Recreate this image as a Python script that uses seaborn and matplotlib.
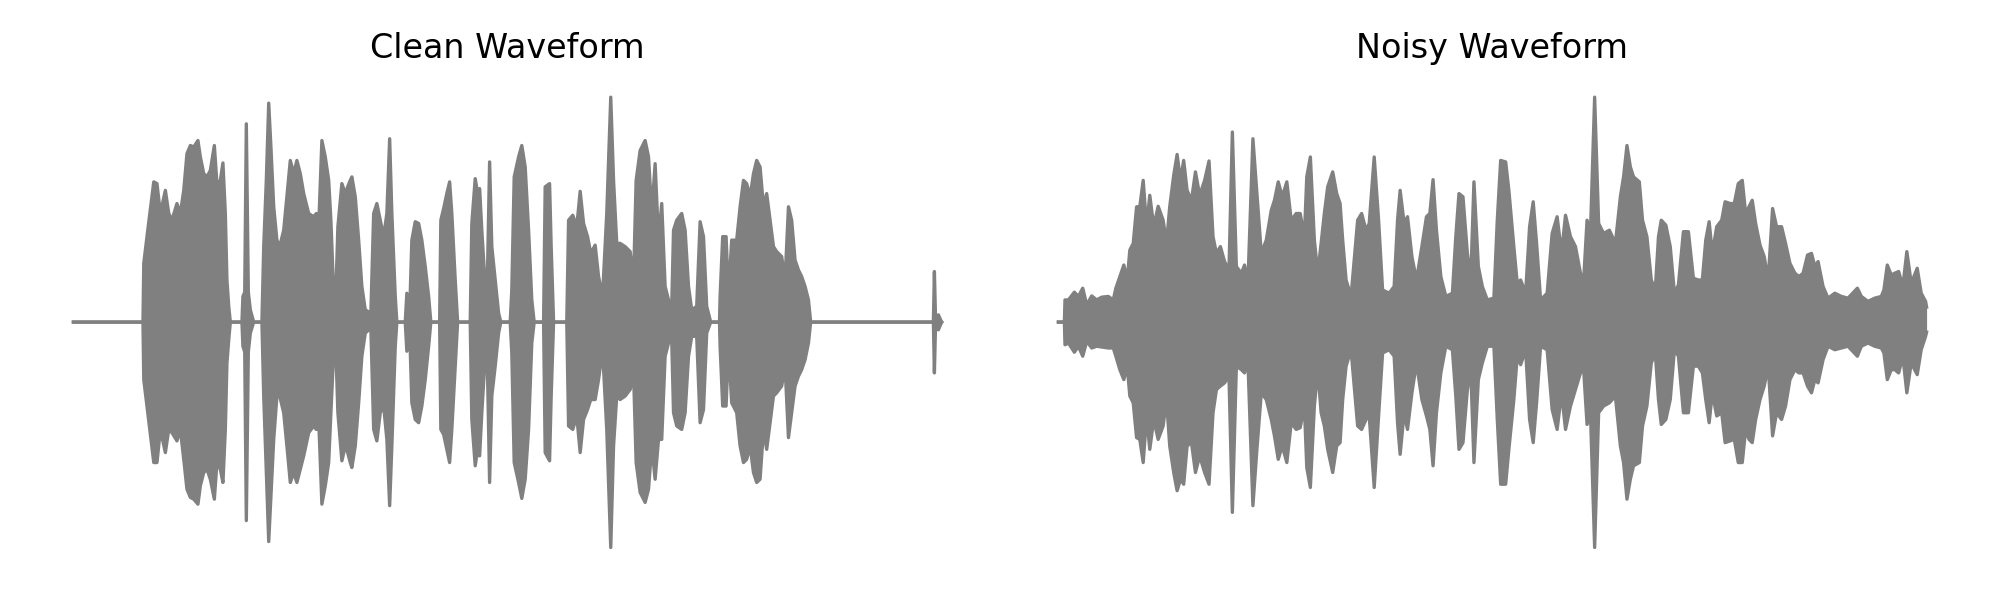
import matplotlib
matplotlib.use("Agg")
import matplotlib.pyplot as plt
import seaborn as sns

# time (s) and envelope (upper / lower amplitude)
clean_t = [0.0, 0.348, 0.352, 0.372, 0.402, 0.418, 0.435, 0.46, 0.477, 0.493,
           0.518, 0.535, 0.552, 0.568, 0.585, 0.602, 0.623, 0.635, 0.652, 0.668,
           0.685, 0.705, 0.718, 0.735, 0.748, 0.76, 0.768, 0.777, 0.785, 0.843,
           0.848, 0.857, 0.865, 0.875, 0.885, 0.902, 0.943, 0.952, 0.965, 0.977,
           0.988, 1.002, 1.018, 1.032, 1.052, 1.068, 1.085, 1.102, 1.118, 1.135,
           1.152, 1.177, 1.202, 1.215, 1.227, 1.243, 1.26, 1.277, 1.288, 1.302,
           1.313, 1.323, 1.343, 1.36, 1.372, 1.385, 1.393, 1.41, 1.427, 1.443,
           1.46, 1.488, 1.502, 1.518, 1.535, 1.552, 1.568, 1.582, 1.593, 1.61,
           1.618, 1.66, 1.668, 1.682, 1.693, 1.71, 1.727, 1.743, 1.76, 1.777,
           1.788, 1.832, 1.838, 1.852, 1.868, 1.882, 1.893, 1.91, 1.922, 1.985,
           1.993, 2.01, 2.022, 2.032, 2.043, 2.06, 2.07, 2.082, 2.093, 2.11,
           2.127, 2.138, 2.185, 2.193, 2.205, 2.227, 2.243, 2.26, 2.277, 2.293,
           2.305, 2.352, 2.36, 2.382, 2.39, 2.402, 2.468, 2.477, 2.498, 2.518,
           2.535, 2.552, 2.572, 2.588, 2.61, 2.627, 2.647, 2.668, 2.688, 2.702,
           2.718, 2.735, 2.76, 2.785, 2.802, 2.815, 2.835, 2.86, 2.877, 2.893,
           2.91, 2.927, 2.943, 2.96, 2.977, 2.993, 3.002, 3.018, 3.043, 3.06,
           3.077, 3.093, 3.118, 3.135, 3.152, 3.168, 3.188, 3.232, 3.235, 3.248,
           3.265, 3.277, 3.293, 3.318, 3.335, 3.352, 3.368, 3.385, 3.402, 3.418,
           3.435, 3.452, 3.468, 3.485, 3.502, 3.518, 3.543, 3.56, 3.577, 3.593,
           3.61, 3.627, 3.643, 3.66, 3.677, 3.688, 4.302, 4.307, 4.313, 4.327, 4.343]
clean_upper = [0, 0, 0.236, 0.369, 0.563, 0.556, 0.436, 0.529, 0.436, 0.409,
               0.476, 0.436, 0.529, 0.676, 0.709, 0.703, 0.729, 0.663, 0.596, 0.583,
               0.609, 0.709, 0.556, 0.569, 0.639, 0.436, 0.169, 0.063, 0, 0,
               0.103, 0.12, 0.796, 0.12, 0.049, 0, 0, 0.303, 0.569, 0.879,
               0.703, 0.463, 0.329, 0.303, 0.369, 0.503, 0.649, 0.596, 0.649, 0.596,
               0.516, 0.436, 0.423, 0.436, 0.383, 0.729, 0.663, 0.569, 0.409, 0.116,
               0.116, 0.383, 0.556, 0.516, 0.543, 0.569, 0.583, 0.503, 0.329, 0.143,
               0.049, 0.036, 0.436, 0.476, 0.409, 0.343, 0.436, 0.736, 0.436, 0.103,
               0, 0, 0.116, 0.036, 0.329, 0.403, 0.396, 0.329, 0.223, 0.103,
               0, 0, 0.409, 0.456, 0.516, 0.563, 0.436, 0.169, 0, 0,
               0.396, 0.576, 0.516, 0.536, 0.369, 0.143, 0.143, 0.643, 0.303, 0.169,
               0.036, 0, 0, 0.129, 0.583, 0.663, 0.709, 0.623, 0.369, 0.089,
               0, 0, 0.543, 0.556, 0.303, 0, 0, 0.409, 0.429, 0.383,
               0.525, 0.396, 0.343, 0.276, 0.309, 0.183, 0.103, 0.436, 0.903, 0.569,
               0.316, 0.316, 0.303, 0.283, 0.169, 0.569, 0.689, 0.729, 0.663, 0.436,
               0.636, 0.329, 0.476, 0.143, 0.089, 0.063, 0.369, 0.409, 0.436, 0.369,
               0.143, 0.049, 0.063, 0.403, 0.343, 0.063, 0, 0, 0.103, 0.343,
               0.343, 0.103, 0.329, 0.329, 0.463, 0.569, 0.556, 0.503, 0.596, 0.649,
               0.623, 0.463, 0.516, 0.409, 0.303, 0.283, 0.263, 0.169, 0.463, 0.409,
               0.249, 0.209, 0.183, 0.143, 0.089, 0, 0, 0.203, 0, 0.029, 0]
clean_lower = [0, 0, -0.231, -0.364, -0.564, -0.564, -0.431, -0.524, -0.431, -0.444,
               -0.477, -0.431, -0.551, -0.671, -0.704, -0.711, -0.731, -0.657, -0.604, -0.591,
               -0.631, -0.711, -0.564, -0.591, -0.644, -0.431, -0.164, -0.071, 0, 0,
               -0.097, -0.12, -0.797, -0.12, -0.044, 0, 0, -0.297, -0.604, -0.881,
               -0.697, -0.471, -0.297, -0.297, -0.364, -0.497, -0.644, -0.604, -0.644, -0.591,
               -0.537, -0.444, -0.417, -0.431, -0.391, -0.731, -0.657, -0.564, -0.364, -0.124,
               -0.111, -0.364, -0.557, -0.497, -0.524, -0.564, -0.584, -0.497, -0.324, -0.137,
               -0.044, -0.024, -0.431, -0.477, -0.364, -0.337, -0.471, -0.737, -0.497, -0.097,
               0, 0, -0.117, -0.031, -0.324, -0.391, -0.404, -0.337, -0.231, -0.097,
               0, 0, -0.431, -0.451, -0.511, -0.564, -0.431, -0.177, 0, 0,
               -0.391, -0.577, -0.511, -0.537, -0.364, -0.137, -0.137, -0.644, -0.297, -0.177,
               -0.044, 0, 0, -0.124, -0.564, -0.644, -0.708, -0.631, -0.431, -0.084,
               0, 0, -0.524, -0.557, -0.297, 0, 0, -0.417, -0.431, -0.377,
               -0.524, -0.391, -0.351, -0.311, -0.311, -0.231, -0.111, -0.431, -0.905, -0.497,
               -0.297, -0.311, -0.297, -0.271, -0.204, -0.564, -0.684, -0.724, -0.671, -0.497,
               -0.631, -0.471, -0.471, -0.137, -0.084, -0.071, -0.364, -0.417, -0.431, -0.364,
               -0.137, -0.057, -0.057, -0.404, -0.351, -0.044, 0, 0, -0.097, -0.337,
               -0.337, -0.097, -0.324, -0.364, -0.497, -0.564, -0.551, -0.497, -0.604, -0.644,
               -0.631, -0.431, -0.511, -0.404, -0.297, -0.284, -0.257, -0.177, -0.464, -0.364,
               -0.257, -0.217, -0.191, -0.151, -0.084, 0, 0, -0.204, 0, -0.031, 0]

# same for the noisy waveform
noisy_t = [0.0, 0.03, 0.033, 0.05, 0.08, 0.1, 0.122, 0.142, 0.167, 0.192,
           0.217, 0.25, 0.275, 0.288, 0.308, 0.328, 0.345, 0.358, 0.375, 0.392,
           0.408, 0.425, 0.442, 0.458, 0.478, 0.5, 0.525, 0.542, 0.558, 0.578,
           0.595, 0.612, 0.628, 0.645, 0.667, 0.687, 0.708, 0.733, 0.755, 0.775,
           0.792, 0.812, 0.833, 0.855, 0.872, 0.892, 0.917, 0.933, 0.95, 0.975,
           0.995, 1.017, 1.042, 1.067, 1.083, 1.102, 1.122, 1.145, 1.167, 1.192,
           1.212, 1.233, 1.245, 1.263, 1.283, 1.3, 1.317, 1.333, 1.35, 1.375,
           1.395, 1.412, 1.425, 1.442, 1.467, 1.5, 1.52, 1.542, 1.558, 1.583,
           1.605, 1.625, 1.658, 1.683, 1.7, 1.713, 1.733, 1.75, 1.772, 1.795,
           1.822, 1.845, 1.862, 1.878, 1.895, 1.917, 1.942, 1.975, 1.992, 2.008,
           2.028, 2.05, 2.067, 2.083, 2.105, 2.125, 2.15, 2.183, 2.2, 2.217,
           2.242, 2.258, 2.283, 2.3, 2.317, 2.342, 2.362, 2.38, 2.397, 2.417,
           2.45, 2.475, 2.5, 2.522, 2.542, 2.567, 2.592, 2.617, 2.633, 2.65,
           2.667, 2.688, 2.708, 2.733, 2.762, 2.792, 2.817, 2.833, 2.85, 2.867,
           2.883, 2.912, 2.928, 2.95, 2.972, 2.992, 3.008, 3.022, 3.045, 3.067,
           3.088, 3.108, 3.133, 3.158, 3.183, 3.208, 3.228, 3.245, 3.262, 3.278,
           3.3, 3.325, 3.342, 3.367, 3.388, 3.408, 3.428, 3.445, 3.462, 3.478,
           3.495, 3.517, 3.538, 3.558, 3.58, 3.6, 3.625, 3.645, 3.667, 3.692,
           3.712, 3.733, 3.755, 3.775, 3.792, 3.808, 3.833, 3.858, 3.892, 3.925,
           3.958, 4.005, 4.025, 4.058, 4.092, 4.125, 4.138, 4.155, 4.175, 4.192,
           4.212, 4.233, 4.253, 4.275, 4.305, 4.325, 4.347, 4.352]
noisy_upper = [0, 0, 0.089, 0.089, 0.12, 0.103, 0.136, 0.069, 0.105, 0.089,
               0.1, 0.103, 0.089, 0.136, 0.183, 0.229, 0.169, 0.289, 0.316, 0.463,
               0.463, 0.569, 0.383, 0.509, 0.383, 0.465, 0.409, 0.316, 0.463, 0.589,
               0.673, 0.569, 0.649, 0.529, 0.489, 0.603, 0.509, 0.569, 0.647, 0.343,
               0.276, 0.303, 0.243, 0.209, 0.763, 0.223, 0.196, 0.229, 0.156, 0.736,
               0.516, 0.276, 0.329, 0.449, 0.489, 0.563, 0.503, 0.563, 0.409, 0.436,
               0.436, 0.343, 0.583, 0.663, 0.329, 0.196, 0.316, 0.436, 0.543, 0.603,
               0.516, 0.476, 0.329, 0.169, 0.103, 0.409, 0.436, 0.369, 0.396, 0.663,
               0.409, 0.129, 0.116, 0.143, 0.409, 0.529, 0.396, 0.423, 0.263, 0.169,
               0.303, 0.423, 0.436, 0.572, 0.369, 0.183, 0.103, 0.116, 0.343, 0.516,
               0.503, 0.276, 0.169, 0.563, 0.223, 0.143, 0.089, 0.096, 0.409, 0.649,
               0.643, 0.529, 0.303, 0.156, 0.169, 0.116, 0.383, 0.483, 0.316, 0.089,
               0.116, 0.356, 0.423, 0.276, 0.429, 0.343, 0.303, 0.196, 0.169, 0.409,
               0.356, 0.903, 0.396, 0.356, 0.369, 0.316, 0.503, 0.583, 0.709, 0.623,
               0.583, 0.563, 0.409, 0.343, 0.169, 0.129, 0.343, 0.409, 0.389, 0.303,
               0.116, 0.149, 0.363, 0.363, 0.176, 0.169, 0.169, 0.329, 0.403, 0.276,
               0.383, 0.409, 0.483, 0.476, 0.476, 0.556, 0.569, 0.436, 0.463, 0.489,
               0.396, 0.309, 0.263, 0.169, 0.456, 0.383, 0.383, 0.316, 0.236, 0.196,
               0.183, 0.196, 0.269, 0.276, 0.223, 0.243, 0.143, 0.096, 0.116, 0.103,
               0.096, 0.136, 0.103, 0.083, 0.096, 0.103, 0.129, 0.229, 0.189, 0.196,
               0.203, 0.143, 0.283, 0.156, 0.216, 0.116, 0.083, 0.06]
noisy_lower = [0, 0, -0.091, -0.084, -0.121, -0.097, -0.137, -0.077, -0.104, -0.097,
               -0.1, -0.104, -0.104, -0.137, -0.191, -0.231, -0.177, -0.297, -0.324, -0.464,
               -0.471, -0.564, -0.377, -0.511, -0.391, -0.471, -0.417, -0.311, -0.497, -0.604,
               -0.677, -0.631, -0.651, -0.497, -0.484, -0.604, -0.537, -0.604, -0.651, -0.364,
               -0.271, -0.257, -0.244, -0.217, -0.764, -0.177, -0.191, -0.204, -0.157, -0.737,
               -0.511, -0.284, -0.311, -0.391, -0.457, -0.551, -0.497, -0.564, -0.404, -0.431,
               -0.424, -0.337, -0.584, -0.664, -0.337, -0.191, -0.364, -0.417, -0.511, -0.604,
               -0.497, -0.484, -0.311, -0.177, -0.111, -0.417, -0.431, -0.391, -0.377, -0.664,
               -0.377, -0.124, -0.111, -0.137, -0.404, -0.531, -0.364, -0.431, -0.284, -0.164,
               -0.311, -0.377, -0.431, -0.577, -0.364, -0.204, -0.097, -0.111, -0.297, -0.511,
               -0.484, -0.271, -0.191, -0.564, -0.231, -0.164, -0.097, -0.097, -0.391, -0.651,
               -0.651, -0.511, -0.311, -0.137, -0.171, -0.111, -0.391, -0.484, -0.324, -0.097,
               -0.111, -0.351, -0.431, -0.284, -0.431, -0.337, -0.271, -0.204, -0.191, -0.411,
               -0.364, -0.905, -0.364, -0.337, -0.324, -0.297, -0.497, -0.564, -0.711, -0.631,
               -0.577, -0.564, -0.417, -0.337, -0.164, -0.124, -0.311, -0.411, -0.391, -0.311,
               -0.111, -0.137, -0.364, -0.364, -0.177, -0.177, -0.204, -0.311, -0.404, -0.284,
               -0.377, -0.364, -0.484, -0.477, -0.471, -0.564, -0.564, -0.431, -0.471, -0.484,
               -0.391, -0.311, -0.257, -0.177, -0.457, -0.364, -0.391, -0.337, -0.231, -0.191,
               -0.204, -0.204, -0.257, -0.284, -0.231, -0.244, -0.151, -0.097, -0.111, -0.104,
               -0.097, -0.137, -0.097, -0.084, -0.097, -0.104, -0.124, -0.231, -0.191, -0.191,
               -0.204, -0.137, -0.284, -0.164, -0.211, -0.111, -0.057, -0.04]

titles = ['Clean Waveform', 'Noisy Waveform']
wave_color = 'gray'


def plot_waveform(ax, t, upper, lower, title):
    ax.fill_between(t, lower, upper, color=wave_color, linewidth=0)
    sns.lineplot(x=t, y=upper, color=wave_color, linewidth=1.2,
                 estimator=None, sort=False, ax=ax)
    sns.lineplot(x=t, y=lower, color=wave_color, linewidth=1.2,
                 estimator=None, sort=False, ax=ax)
    ax.set_title(title)
    ax.axis('off')


def main():
    assert len(clean_t) == len(clean_upper) == len(clean_lower)
    assert len(noisy_t) == len(noisy_upper) == len(noisy_lower)

    fig, axes = plt.subplots(1, 2, figsize=(10, 3))
    plot_waveform(axes[0], clean_t, clean_upper, clean_lower, titles[0])
    plot_waveform(axes[1], noisy_t, noisy_upper, noisy_lower, titles[1])
    plt.tight_layout()
    plt.savefig('out.png', dpi=200)


if __name__ == "__main__":
    main()
